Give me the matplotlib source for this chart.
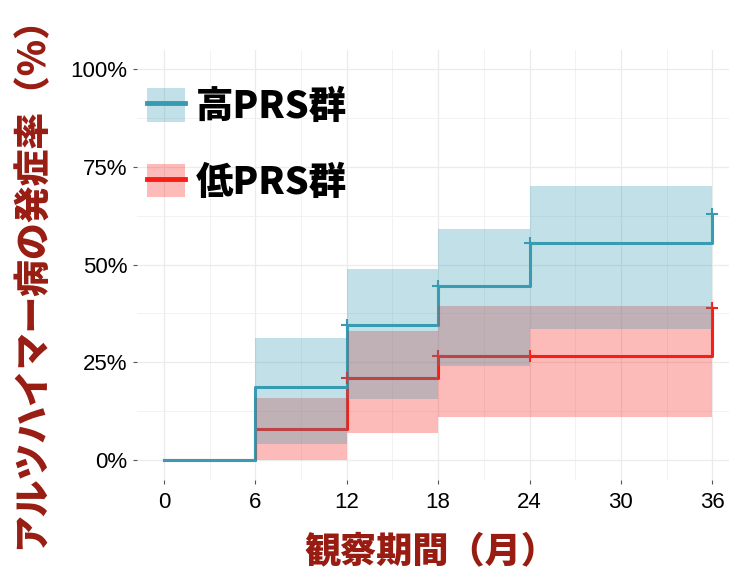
import matplotlib
matplotlib.use("Agg")
import matplotlib.pyplot as plt
from matplotlib.patches import Patch
from matplotlib.lines import Line2D
import numpy as np

# Data (months, cumulative incidence in %)
times = [0, 6, 12, 18, 24, 36]
high_inc = [0, 18.7, 34.4, 44.4, 55.4, 62.9]
low_inc = [0, 7.8, 21.0, 26.6, 26.6, 39.0]

band_times = [6, 12, 18, 24, 36]
high_upper = [31.2, 48.8, 59.1, 70.1, 70.1]
high_lower = [4.0, 15.6, 24.0, 33.5, 33.5]
low_upper = [15.9, 33.1, 39.4, 39.4, 39.4]
low_lower = [0.0, 6.9, 10.9, 10.9, 10.9]

censor_times = [12, 18, 24, 36]
high_censor = [34.4, 44.4, 55.4, 62.9]
low_censor = [21.0, 26.6, 26.6, 39.0]

labels = ["高PRS群", "低PRS群"]
xticks = [0, 6, 12, 18, 24, 30, 36]
yticks = [0, 25, 50, 75, 100]

teal = "#379BB2"
red = "#F71E16"
title_color = "#981C12"
cjk = ["Noto Sans CJK JP", "DejaVu Sans"]

fig = plt.figure(figsize=(7.29, 5.72), dpi=100)
W, H = 729, 572
# panel edges in pixels (right edge runs past the canvas)
left, right, top, bottom = 136.5, 758, 49.5, 479.5
ax = fig.add_axes([left / W, 1 - bottom / H, (right - left) / W, (bottom - top) / H])

# Step lines
ax.step(times, low_inc, where="post", color=red, lw=2.2, zorder=2)
ax.step(times, high_inc, where="post", color=teal, lw=2.2, zorder=2)
ax.plot(censor_times, low_censor, ls="none", marker="+", ms=9, mew=1.5, color=red, zorder=2)
ax.plot(censor_times, high_censor, ls="none", marker="+", ms=9, mew=1.5, color=teal, zorder=2)

# Confidence bands
ax.fill_between(band_times, low_lower, low_upper, step="post", color=red, alpha=0.3, lw=0, zorder=3)
ax.fill_between(band_times, high_lower, high_upper, step="post", color=teal, alpha=0.3, lw=0, zorder=3)

# Axes
ax.set_xlim(-1.8, 37.8)
ax.set_ylim(-5, 105)
ax.set_xticks(xticks)
ax.set_xticks([3, 9, 15, 21, 27, 33, 39], minor=True)
ax.set_yticks(yticks)
ax.set_yticks([12.5, 37.5, 62.5, 87.5], minor=True)
ax.set_xticklabels([str(t) for t in xticks], fontsize=16, family="Liberation Sans")
ax.set_yticklabels([f"{t}%" for t in yticks], fontsize=16, family="Liberation Sans")
ax.tick_params(which="major", length=3, width=0.8, color="#555555")
ax.tick_params(axis="x", which="major", pad=6)
ax.tick_params(axis="y", which="major", pad=3.5)
ax.tick_params(which="minor", length=0)
ax.grid(which="major", color="#EBEBEB", lw=0.9)
ax.grid(which="minor", color="#F0F0F0", lw=0.6)
ax.set_axisbelow(True)
for s in ax.spines.values():
    s.set_visible(False)

ax.set_xlabel("観察期間（月）", fontsize=26, fontweight="heavy", color=title_color, family=cjk)
ax.xaxis.set_label_coords((431 - left) / (right - left), (bottom - 533) / (bottom - top))
ax.set_ylabel("アルツハイマー病の発症率（%）", fontsize=26.5, fontweight="heavy", color=title_color,
              family=cjk, va="center")
ax.yaxis.set_label_coords((31 - left) / (right - left), (bottom - 274) / (bottom - top))

# Legend
handles = [
    (Patch(facecolor=teal, alpha=0.3, lw=0), Line2D([], [], color=teal, lw=3.5)),
    (Patch(facecolor=red, alpha=0.3, lw=0), Line2D([], [], color=red, lw=3.5)),
]
leg = ax.legend(handles, labels, loc="upper left", bbox_to_anchor=(147 / W, 1 - 88 / H),
                bbox_transform=fig.transFigure, frameon=False, borderpad=0, borderaxespad=0,
                handlelength=1.0, handleheight=1.0, handletextpad=0.3, labelspacing=1.0,
                prop={"family": cjk, "weight": "heavy", "size": 27})

fig.savefig("out.png", dpi=100)
